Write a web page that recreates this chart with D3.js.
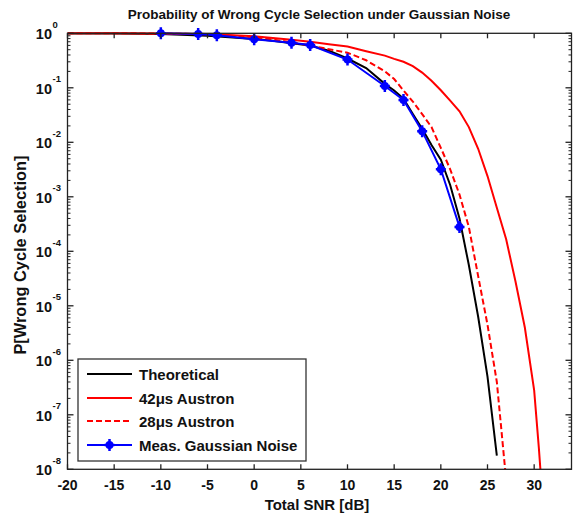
<!DOCTYPE html>
<html>
<head>
<meta charset="utf-8">
<script src="https://cdn.jsdelivr.net/npm/d3@7"></script>
<style>
  body { margin: 0; background: #fff; }
  svg text { font-family: "Liberation Sans", Arial, sans-serif; font-weight: bold; fill: #111; }
</style>
</head>
<body>
<svg id="chart" width="573" height="516"></svg>
<script>
// SNR grid (dB) for the computed curves
const snrTheory = [-20, -15, -10, -5, 0, 2, 4, 6, 8, 10, 12, 14, 15, 16, 17, 18, 19, 20, 21, 22, 23, 24, 25, 26];
const pTheory   = [0.995, 0.99, 0.97, 0.9, 0.79, 0.73, 0.66, 0.595, 0.48, 0.345, 0.23, 0.118, 0.089, 0.063, 0.033, 0.0178, 0.0089, 0.0048, 0.00165, 4.0e-4, 5.6e-5, 6.3e-6, 5.0e-7, 1.78e-8];

const snr42 = [-20, -15, -10, -5, 0, 2, 4, 6, 8, 10, 12, 14, 15, 16, 17, 18, 19, 20, 21, 22, 23, 24, 25, 26, 27, 28, 29, 30, 30.5, 31];
const p42   = [1.0, 0.999, 0.995, 0.97, 0.88, 0.82, 0.76, 0.7, 0.63, 0.57, 0.47, 0.39, 0.34, 0.30, 0.25, 0.19, 0.135, 0.09, 0.058, 0.037, 0.019, 0.0076, 0.0024, 6.3e-4, 1.66e-4, 2.8e-5, 4.0e-6, 2.8e-7, 2.5e-8, 1.6e-9];

const snr28 = [-20, -15, -10, -5, 0, 2, 4, 6, 8, 10, 12, 14, 15, 16, 17, 18, 19, 20, 21, 22, 23, 24, 25, 26, 27];
const p28   = [1.0, 0.999, 0.995, 0.96, 0.85, 0.77, 0.68, 0.6, 0.51, 0.44, 0.32, 0.2, 0.145, 0.089, 0.056, 0.033, 0.019, 0.0079, 0.0032, 0.0011, 2.8e-4, 3.5e-5, 4.5e-6, 4.0e-7, 6.3e-9];

// measured points
const snrMeas = [-10, -6, -4, 0, 4, 6, 10, 14, 16, 18, 20, 22];
const pMeas   = [1.0, 0.97, 0.92, 0.78, 0.67, 0.61, 0.33, 0.108, 0.06, 0.016, 0.0032, 0.00028];

const xTicks = [-20, -15, -10, -5, 0, 5, 10, 15, 20, 25, 30];
const yExps  = [0, -1, -2, -3, -4, -5, -6, -7, -8];

const legendLabels = ["Theoretical", "42\u03bcs Austron", "28\u03bcs Austron", "Meas. Gaussian Noise"];

const svg = d3.select("#chart");
const plotLeft = 67.5, plotRight = 571.5, plotTop = 33.3, plotBottom = 469.3;

const x = d3.scaleLinear().domain([-20, 34]).range([plotLeft, plotRight]);
const y = d3.scaleLog().domain([1, 1e-8]).range([plotTop, plotBottom]);

// clip region for the curves
svg.append("defs").append("clipPath").attr("id", "plotClip")
  .append("rect").attr("x", plotLeft).attr("y", plotTop - 3)
  .attr("width", plotRight - plotLeft).attr("height", plotBottom - plotTop + 3);

const plot = svg.append("g").attr("clip-path", "url(#plotClip)");
const line = d3.line().x(d => x(d[0])).y(d => y(d[1]));
const zip = (a, b) => a.map((v, i) => [v, b[i]]);

plot.append("path").datum(zip(snrTheory, pTheory))
  .attr("d", line).attr("fill", "none").attr("stroke", "#000").attr("stroke-width", 2);
plot.append("path").datum(zip(snr42, p42))
  .attr("d", line).attr("fill", "none").attr("stroke", "#f00").attr("stroke-width", 2);
plot.append("path").datum(zip(snr28, p28))
  .attr("d", line).attr("fill", "none").attr("stroke", "#f00").attr("stroke-width", 2)
  .attr("stroke-dasharray", "6,3");
plot.append("path").datum(zip(snrMeas, pMeas))
  .attr("d", line).attr("fill", "none").attr("stroke", "#00f").attr("stroke-width", 2);

function marker(g, cx, cy) {
  g.append("circle").attr("cx", cx).attr("cy", cy).attr("r", 4).attr("fill", "#00f");
  g.append("path").attr("d", `M${cx - 5},${cy}H${cx + 5}M${cx},${cy - 6}V${cy + 6}`)
    .attr("stroke", "#00f").attr("stroke-width", 2.5);
}
const mk = svg.append("g");
zip(snrMeas, pMeas).forEach(d => marker(mk, x(d[0]), y(d[1])));

// axes box and ticks
const axes = svg.append("g").attr("stroke", "#222").attr("stroke-width", 1.3);
axes.append("rect").attr("x", plotLeft).attr("y", plotTop)
  .attr("width", plotRight - plotLeft).attr("height", plotBottom - plotTop).attr("fill", "none");

xTicks.forEach(t => {
  const px = x(t);
  axes.append("line").attr("x1", px).attr("x2", px).attr("y1", plotBottom).attr("y2", plotBottom - 5);
  axes.append("line").attr("x1", px).attr("x2", px).attr("y1", plotTop).attr("y2", plotTop + 5);
});
yExps.forEach(e => {
  const py = y(Math.pow(10, e));
  axes.append("line").attr("x1", plotLeft).attr("x2", plotLeft + 6).attr("y1", py).attr("y2", py);
  axes.append("line").attr("x1", plotRight).attr("x2", plotRight - 6).attr("y1", py).attr("y2", py);
  if (e > -8) {
    for (let m = 2; m <= 9; m++) {
      const pm = y(m * Math.pow(10, e - 1));
      axes.append("line").attr("x1", plotLeft).attr("x2", plotLeft + 3).attr("y1", pm).attr("y2", pm).attr("stroke-width", 1);
      axes.append("line").attr("x1", plotRight).attr("x2", plotRight - 3).attr("y1", pm).attr("y2", pm).attr("stroke-width", 1);
    }
  }
});

// tick labels
xTicks.forEach(t => {
  svg.append("text").attr("x", x(t)).attr("y", 490).attr("text-anchor", "middle")
    .attr("font-size", 14).text(t);
});
yExps.forEach(e => {
  const py = y(Math.pow(10, e));
  svg.append("text").attr("x", 52).attr("y", py + 6).attr("text-anchor", "end").attr("font-size", 14.5).text("10");
  svg.append("text").attr("x", 52.5).attr("y", py - 5.5).attr("font-size", 9.5).text(String(e));
});

// titles
svg.append("text").attr("x", 319).attr("y", 19).attr("text-anchor", "middle").attr("font-size", 13.5)
  .text("Probability of Wrong Cycle Selection under Gaussian Noise");
svg.append("text").attr("x", 317).attr("y", 510).attr("text-anchor", "middle").attr("font-size", 15)
  .text("Total SNR [dB]");
svg.append("text").attr("transform", "translate(25.5,255) rotate(-90)").attr("text-anchor", "middle")
  .attr("font-size", 16.4).text("P[Wrong Cycle Selection]");

// legend
const lg = svg.append("g");
lg.append("rect").attr("x", 78).attr("y", 359).attr("width", 228).attr("height", 102)
  .attr("fill", "#fff").attr("stroke", "#333").attr("stroke-width", 1.3);
const legendRows = [374, 398, 421, 445];
const legendStyles = [
  { c: "#000", dash: null }, { c: "#f00", dash: null }, { c: "#f00", dash: "6,3" }, { c: "#00f", dash: null }
];
legendLabels.forEach((lab, i) => {
  const ly = legendRows[i];
  lg.append("line").attr("x1", 87).attr("x2", 132).attr("y1", ly).attr("y2", ly)
    .attr("stroke", legendStyles[i].c).attr("stroke-width", 2)
    .attr("stroke-dasharray", legendStyles[i].dash);
  if (i === 3) marker(lg, 109.5, ly);
  lg.append("text").attr("x", 139).attr("y", ly + 6).attr("font-size", 15).text(lab);
});
</script>
</body>
</html>
